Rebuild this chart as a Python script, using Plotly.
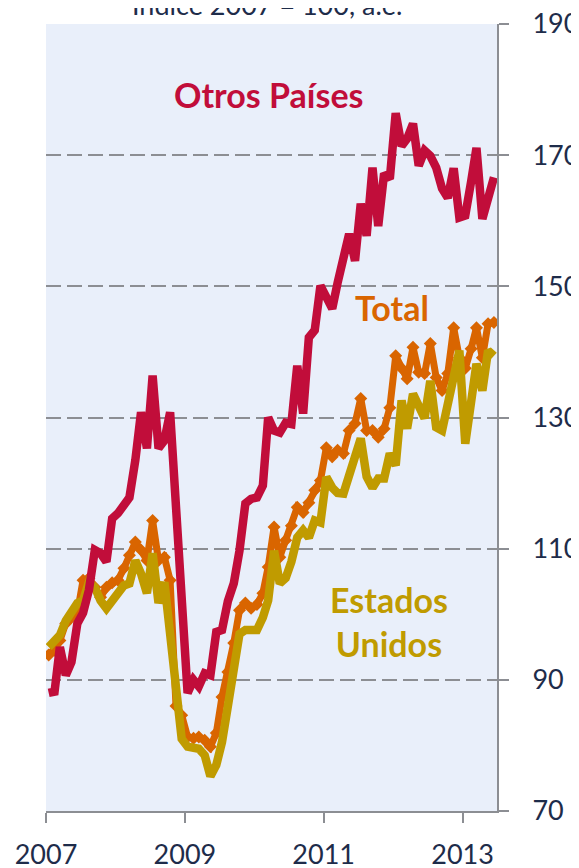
import plotly.graph_objects as go

# Monthly data, Jan 2007 - Jun 2013 (index 2007 = 100, s.a.)
months = [f"{y}-{m:02d}-15" for y in range(2007, 2014) for m in range(1, 13)][:78]

otros_paises = [
    88.0, 88.2, 95.0, 90.7, 92.7, 98.6, 100.2, 103.7, 109.8, 109.3, 108.0, 114.6,
    115.4, 116.6, 117.8, 123.5, 130.8, 125.3, 136.4, 125.3, 126.5, 130.8, 116.5, 102.0,
    88.0, 90.0, 89.0, 91.0, 90.7, 97.3, 97.6, 102.0, 104.7, 109.7, 116.9, 117.6,
    117.8, 119.6, 130.0, 128.0, 127.7, 129.2, 129.0, 137.9, 130.6, 142.2, 143.3, 150.1,
    148.0, 146.6, 150.5, 154.5, 158.0, 153.9, 162.6, 157.7, 168.1, 159.2, 167.2, 166.4,
    176.4, 171.4, 172.5, 174.8, 168.4, 170.7, 169.9, 168.1, 164.9, 163.5, 168.0, 160.5,
    160.8, 166.0, 171.1, 160.3, 163.5, 166.6,
]

total = [
    93.8, 94.5, 96.0, 98.6, 99.5, 100.2, 105.2, 105.5, 104.1, 102.6, 104.1, 104.8,
    105.2, 107.0, 109.0, 111.0, 109.8, 108.2, 114.3, 108.2, 108.7, 105.2, 86.0, 84.6,
    81.3, 81.1, 81.3, 80.8, 79.8, 81.9, 87.4, 91.2, 95.6, 100.6, 101.7, 100.9,
    101.5, 103.2, 107.2, 113.3, 108.7, 111.3, 113.5, 116.3, 115.5, 117.0, 118.9, 120.4,
    125.4, 124.0, 125.0, 124.5, 128.0, 129.1, 132.9, 128.0, 128.0, 127.0, 128.3, 131.5,
    139.4, 137.5, 135.9, 140.7, 136.9, 136.7, 141.3, 136.1, 134.1, 136.7, 143.7, 139.1,
    137.5, 140.5, 143.7, 139.1, 144.3, 144.5,
]

estados_unidos = [
    95.0, 96.0, 96.8, 99.0, 100.5, 101.7, 102.1, 104.9, 104.1, 102.1, 100.9, 102.1,
    103.2, 104.4, 104.7, 108.2, 106.2, 103.2, 109.3, 101.7, 104.9, 97.6, 88.0, 81.0,
    79.8, 79.6, 79.5, 78.5, 75.3, 77.0, 80.5, 86.0, 91.5, 97.0, 97.6, 97.6,
    97.6, 99.5, 102.1, 109.7, 104.7, 105.5, 108.0, 111.7, 112.8, 111.7, 114.3, 114.0,
    120.9, 119.3, 118.5, 118.4, 121.4, 124.0, 126.8, 121.0, 119.3, 120.7, 120.7, 124.5,
    122.7, 132.6, 128.3, 133.6, 131.5, 129.9, 135.6, 128.5, 128.0, 132.1, 136.0, 140.2,
    126.0, 132.0, 138.2, 134.1, 140.2, 139.4,
]

year_ticks = ["2007-01-01", "2009-01-01", "2011-01-01", "2013-01-01"]
year_labels = ["2007", "2009", "2011", "2013"]
y_ticks = [70, 90, 110, 130, 150, 170, 190]

RED = "#C10D3A"
ORANGE = "#D96500"
GOLD = "#C09B00"
NAVY = "#1E2C4A"
AXIS = "#8C8E93"
FONT = "Lato"

fig = go.Figure()
fig.add_trace(go.Scatter(
    x=months, y=total, mode="lines+markers",
    line=dict(color=ORANGE, width=7),
    marker=dict(symbol="diamond", size=10, color=ORANGE),
    name="Total", showlegend=False,
))
fig.add_trace(go.Scatter(
    x=months, y=estados_unidos, mode="lines",
    line=dict(color=GOLD, width=8.5),
    name="Estados Unidos", showlegend=False,
))
fig.add_trace(go.Scatter(
    x=months, y=otros_paises, mode="lines",
    line=dict(color=RED, width=8.5),
    name="Otros Países", showlegend=False,
))

fig.add_annotation(text="<b>Otros Países</b>", x="2010-03-15", y=179.2,
                   xref="x", yref="y", showarrow=False,
                   font=dict(family=FONT, size=34, color=RED))
fig.add_annotation(text="<b>Total</b>", x="2011-12-28", y=146.7,
                   xref="x", yref="y", showarrow=False,
                   font=dict(family=FONT, size=34, color=ORANGE))
fig.add_annotation(text="<b>Estados<br>Unidos</b>", x="2011-12-10", y=98.9,
                   xref="x", yref="y", showarrow=False,
                   font=dict(family=FONT, size=34, color=GOLD))
fig.add_annotation(text="Índice 2007 = 100, a.e.", x=0.49, y=1.0013,
                   xref="paper", yref="paper", yanchor="bottom", showarrow=False,
                   font=dict(family=FONT, size=27, color=NAVY))

# page body has an 8px margin, so the figure is offset by (8, 8) in the window
fig.update_layout(
    width=579, height=868, autosize=False,
    margin=dict(l=38, r=90, t=16, b=65, autoexpand=False),
    paper_bgcolor="white", plot_bgcolor="#E9EFFA",
    font=dict(family=FONT, size=27, color=NAVY),
    showlegend=False,
)
fig.update_xaxes(
    type="date", range=["2007-01-01", "2013-07-01"],
    tickvals=year_ticks, ticktext=year_labels,
    showgrid=False, zeroline=False, automargin=False,
    showline=True, linecolor=AXIS, linewidth=2,
    ticks="outside", ticklen=10, tickwidth=2, tickcolor=AXIS,
    ticklabelstandoff=9, ticklabeloverflow="allow",
    tickfont=dict(family=FONT, size=27, color=NAVY),
)
fig.update_yaxes(
    side="right", range=[70, 190], tickvals=y_ticks,
    showgrid=True, gridcolor=AXIS, gridwidth=2, griddash="15px,6px",
    zeroline=False, automargin=False,
    showline=True, linecolor=AXIS, linewidth=2,
    ticks="outside", ticklen=10, tickwidth=2, tickcolor=AXIS,
    ticklabelstandoff=18, ticklabeloverflow="allow",
    tickfont=dict(family=FONT, size=27, color=NAVY),
)

fig.write_html("out.html")
